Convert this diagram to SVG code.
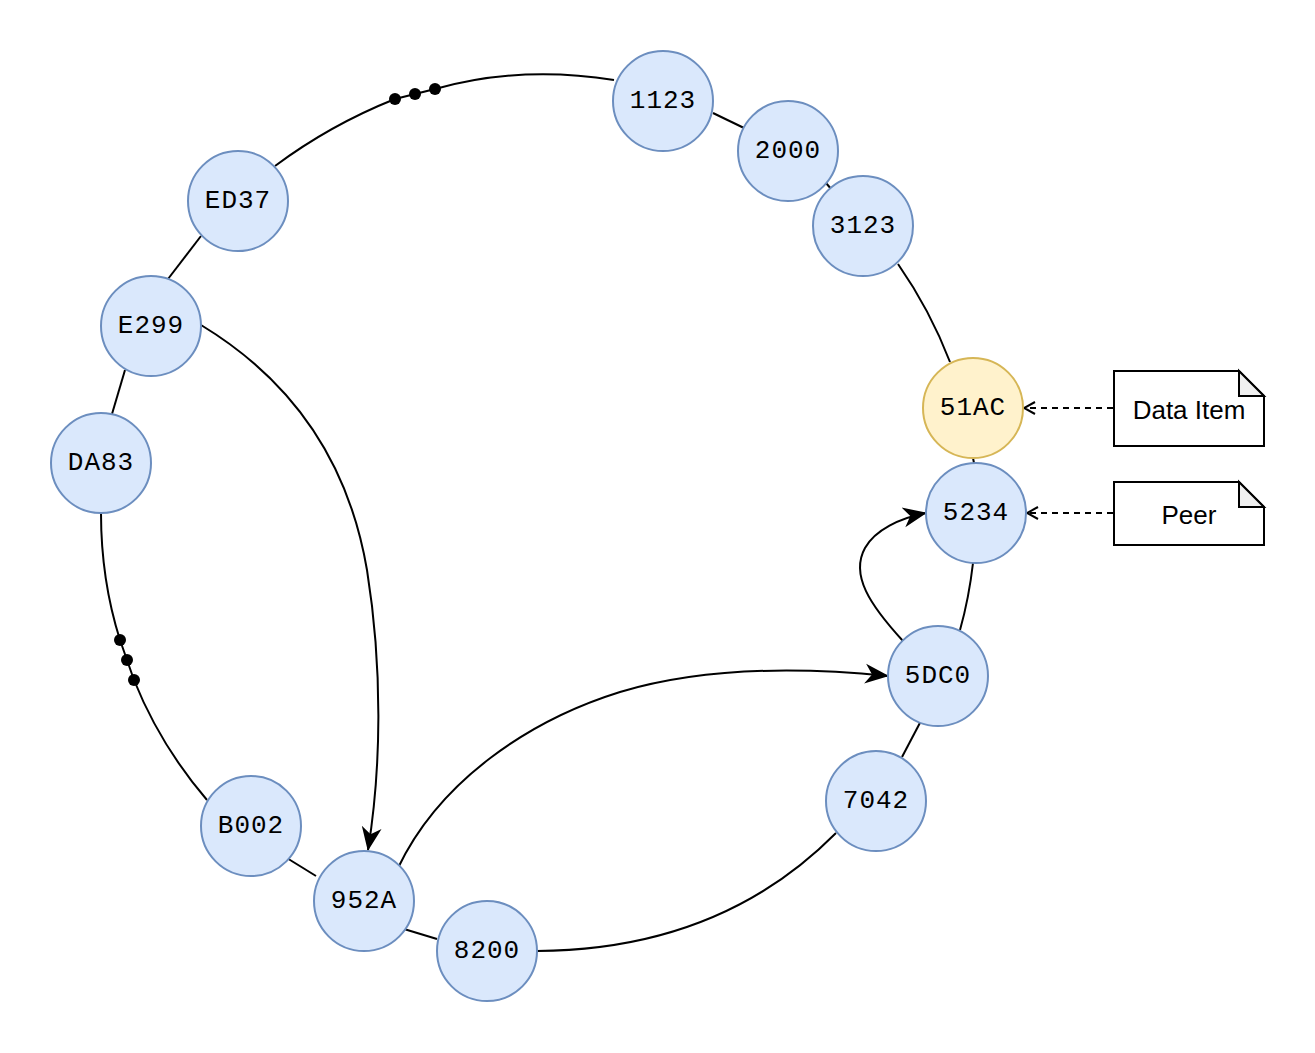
<svg xmlns="http://www.w3.org/2000/svg" width="1315" height="1053" viewBox="0 0 1315 1053">
<style>
.n circle{fill:#dae8fc;stroke:#6c8ebf;stroke-width:2}
.n.y circle{fill:#fff2cc;stroke:#d6b656}
.n text{font-family:"Liberation Mono","Courier New",monospace;font-size:26px;fill:#000;text-anchor:middle;dominant-baseline:central;letter-spacing:1px}
.c path{fill:none;stroke:#000;stroke-width:2}
.c .d{stroke-dasharray:6 5}
.note path{fill:#fff;stroke:#000;stroke-width:2}
.note .f{fill:#f0f0f0}
.note text{font-family:"Liberation Sans",Arial,sans-serif;font-size:26px;text-anchor:middle;dominant-baseline:central}
.dot{fill:#000}
</style>
<defs>
<marker id="a" viewBox="0 0 24 24" refX="23" refY="12" markerWidth="24" markerHeight="24" markerUnits="userSpaceOnUse" orient="auto">
<path d="M0,2 L24,12 L0,22 L7,12 Z" fill="#000"/>
</marker>
<marker id="o" viewBox="0 0 14 14" refX="13" refY="7" markerWidth="14" markerHeight="14" markerUnits="userSpaceOnUse" orient="auto">
<path d="M2,1 L13,7 L2,13" fill="none" stroke="#000" stroke-width="2"/>
</marker>
</defs>
<g class="c">
<path d="M713,113 L744,128"/>
<path d="M826,183 L832,190"/>
<path d="M898,264 Q930,310 950,362"/>
<path d="M973,458 L974,463"/>
<path d="M973,563 Q969,598 960,630"/>
<path d="M922,719 L902,757"/>
<path d="M836,833 Q720,950 537,951"/>
<path d="M437,939 L404,929"/>
<path d="M316,876 L282,855"/>
<path d="M207,800 Q160,745 134,680 L120,640 Q101,580 101,513"/>
<path d="M112,414 L125,370"/>
<path d="M168,279 L201,236"/>
<path d="M275,166 Q330,125 395,99 L435,89 Q520,65 614,80"/>
<path d="M201,325 C300,385 350,470 367,570 C383,670 381,770 368,850" marker-end="url(#a)"/>
<path d="M398,868 C440,780 530,720 620,692 C700,668 790,666 888,676" marker-end="url(#a)"/>
<path d="M903,641 C870,605 850,575 865,548 C875,530 900,518 926,513" marker-end="url(#a)"/>
<path class="d" d="M1113,408 L1024,408" marker-end="url(#o)"/>
<path class="d" d="M1113,513 L1027,513" marker-end="url(#o)"/>
</g>
<g>
<circle class="dot" cx="395" cy="99" r="6"/>
<circle class="dot" cx="415" cy="94" r="6"/>
<circle class="dot" cx="435" cy="89" r="6"/>
<circle class="dot" cx="120" cy="640" r="6"/>
<circle class="dot" cx="127" cy="660" r="6"/>
<circle class="dot" cx="134" cy="680" r="6"/>
</g>
<g id="n1123" class="n"><circle cx="663" cy="101" r="50"/><text x="663" y="101">1123</text></g>
<g id="n2000" class="n"><circle cx="788" cy="151" r="50"/><text x="788" y="151">2000</text></g>
<g id="n3123" class="n"><circle cx="863" cy="226" r="50"/><text x="863" y="226">3123</text></g>
<g id="n51AC" class="n y"><circle cx="973" cy="408" r="50"/><text x="973" y="408">51AC</text></g>
<g id="n5234" class="n"><circle cx="976" cy="513" r="50"/><text x="976" y="513">5234</text></g>
<g id="n5DC0" class="n"><circle cx="938" cy="676" r="50"/><text x="938" y="676">5DC0</text></g>
<g id="n7042" class="n"><circle cx="876" cy="801" r="50"/><text x="876" y="801">7042</text></g>
<g id="n8200" class="n"><circle cx="487" cy="951" r="50"/><text x="487" y="951">8200</text></g>
<g id="n952A" class="n"><circle cx="364" cy="901" r="50"/><text x="364" y="901">952A</text></g>
<g id="nB002" class="n"><circle cx="251" cy="826" r="50"/><text x="251" y="826">B002</text></g>
<g id="nDA83" class="n"><circle cx="101" cy="463" r="50"/><text x="101" y="463">DA83</text></g>
<g id="nE299" class="n"><circle cx="151" cy="326" r="50"/><text x="151" y="326">E299</text></g>
<g id="nED37" class="n"><circle cx="238" cy="201" r="50"/><text x="238" y="201">ED37</text></g>
<g id="noteData" class="note">
<path d="M1114,371 L1239,371 L1264,396 L1264,446 L1114,446 Z"/>
<path class="f" d="M1239,371 L1239,396 L1264,396 Z"/>
<text x="1189" y="410">Data Item</text>
</g>
<g id="notePeer" class="note">
<path d="M1114,482 L1239,482 L1264,507 L1264,545 L1114,545 Z"/>
<path class="f" d="M1239,482 L1239,507 L1264,507 Z"/>
<text x="1189" y="515">Peer</text>
</g>
</svg>
